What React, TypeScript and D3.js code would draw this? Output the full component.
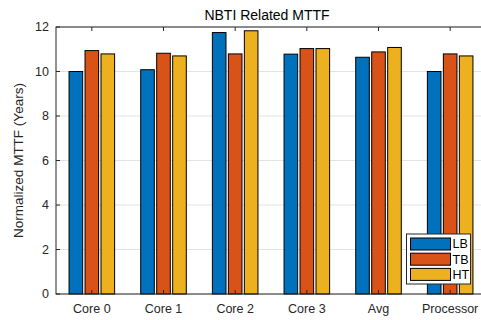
import React from "react";
import * as d3 from "d3";

const categories = ["Core 0", "Core 1", "Core 2", "Core 3", "Avg", "Processor"];
const seriesNames = ["LB", "TB", "HT"];
const lbValues = [10.0, 10.08, 11.75, 10.78, 10.64, 10.0];
const tbValues = [10.94, 10.82, 10.79, 11.03, 10.88, 10.79];
const htValues = [10.79, 10.7, 11.83, 11.03, 11.08, 10.7];
const yTicks = [0, 2, 4, 6, 8, 10, 12];
const colors = ["#0072BD", "#D95319", "#EDB120"];

const W = 481;
const H = 320;
const left = 56;
const right = 486;
const top = 27;
const bottom = 294;

export default function App() {
  const series = [lbValues, tbValues, htValues];
  const x = d3.scaleLinear().domain([0.5, categories.length + 0.5]).range([left, right]);
  const y = d3.scaleLinear().domain([0, 12]).range([bottom, top]);
  const pitch = 0.223;
  const barW = 0.19;
  const textColor = "#262626";
  const font = "'Liberation Sans', Arial, Helvetica, sans-serif";

  const legX = 406.5;
  const legY = 234;
  const legW = 64;
  const legH = 50;

  return (
    <svg
      width={W}
      height={H}
      style={{ position: "absolute", left: 0, top: 0, background: "#fff" }}
      fontFamily={font}
    >
      <rect x={0} y={0} width={W} height={H} fill="#fff" />
      {/* horizontal grid */}
      {yTicks.map((t) => (
        <line key={"g" + t} x1={left} x2={right} y1={y(t)} y2={y(t)} stroke="#e3e3e3" strokeWidth={1} />
      ))}
      {/* bars */}
      {series.map((vals, si) =>
        vals.map((v, ci) => {
          const cx = x(ci + 1) + (si - 1) * (x(pitch) - x(0));
          const w = x(barW) - x(0);
          return (
            <rect
              key={si + "-" + ci}
              x={cx - w / 2}
              y={y(v)}
              width={w}
              height={y(0) - y(v)}
              fill={colors[si]}
              stroke="#000"
              strokeWidth={1}
            />
          );
        })
      )}
      {/* axes box */}
      <rect x={left} y={top} width={right - left} height={bottom - top} fill="none" stroke={textColor} strokeWidth={1} />
      {/* y ticks */}
      {yTicks.map((t) => (
        <g key={"y" + t}>
          <line x1={left} x2={left + 4} y1={y(t)} y2={y(t)} stroke={textColor} />
          <line x1={right} x2={right - 4} y1={y(t)} y2={y(t)} stroke={textColor} />
          <text x={left - 7} y={y(t)} dy="0.35em" textAnchor="end" fontSize={12.5} fill={textColor}>
            {t}
          </text>
        </g>
      ))}
      {/* x ticks */}
      {categories.map((c, i) => (
        <g key={"x" + c}>
          <line x1={x(i + 1)} x2={x(i + 1)} y1={bottom} y2={bottom - 4} stroke={textColor} />
          <line x1={x(i + 1)} x2={x(i + 1)} y1={top} y2={top + 4} stroke={textColor} />
          <text x={x(i + 1)} y={bottom + 19} textAnchor="middle" fontSize={12.5} fill={textColor}>
            {c}
          </text>
        </g>
      ))}
      {/* title */}
      <text x={267} y={20} textAnchor="middle" fontSize={14} fill="#000">
        NBTI Related MTTF
      </text>
      {/* y label */}
      <text
        transform={`translate(23,${(top + bottom) / 2}) rotate(-90)`}
        textAnchor="middle"
        fontSize={13.5}
        fill={textColor}
      >
        Normalized MTTF (Years)
      </text>
      {/* legend */}
      <rect x={legX} y={legY} width={legW} height={legH} fill="#fff" stroke={textColor} strokeWidth={1} />
      {seriesNames.map((s, i) => {
        const cy = legY + 10 + i * 15.2;
        return (
          <g key={"l" + s}>
            <rect x={legX + 4} y={cy - 6} width={40} height={12} fill={colors[i]} stroke="#000" strokeWidth={1} />
            <text x={legX + 46} y={cy} dy="0.35em" fontSize={12.5} fill="#000">
              {s}
            </text>
          </g>
        );
      })}
    </svg>
  );
}
